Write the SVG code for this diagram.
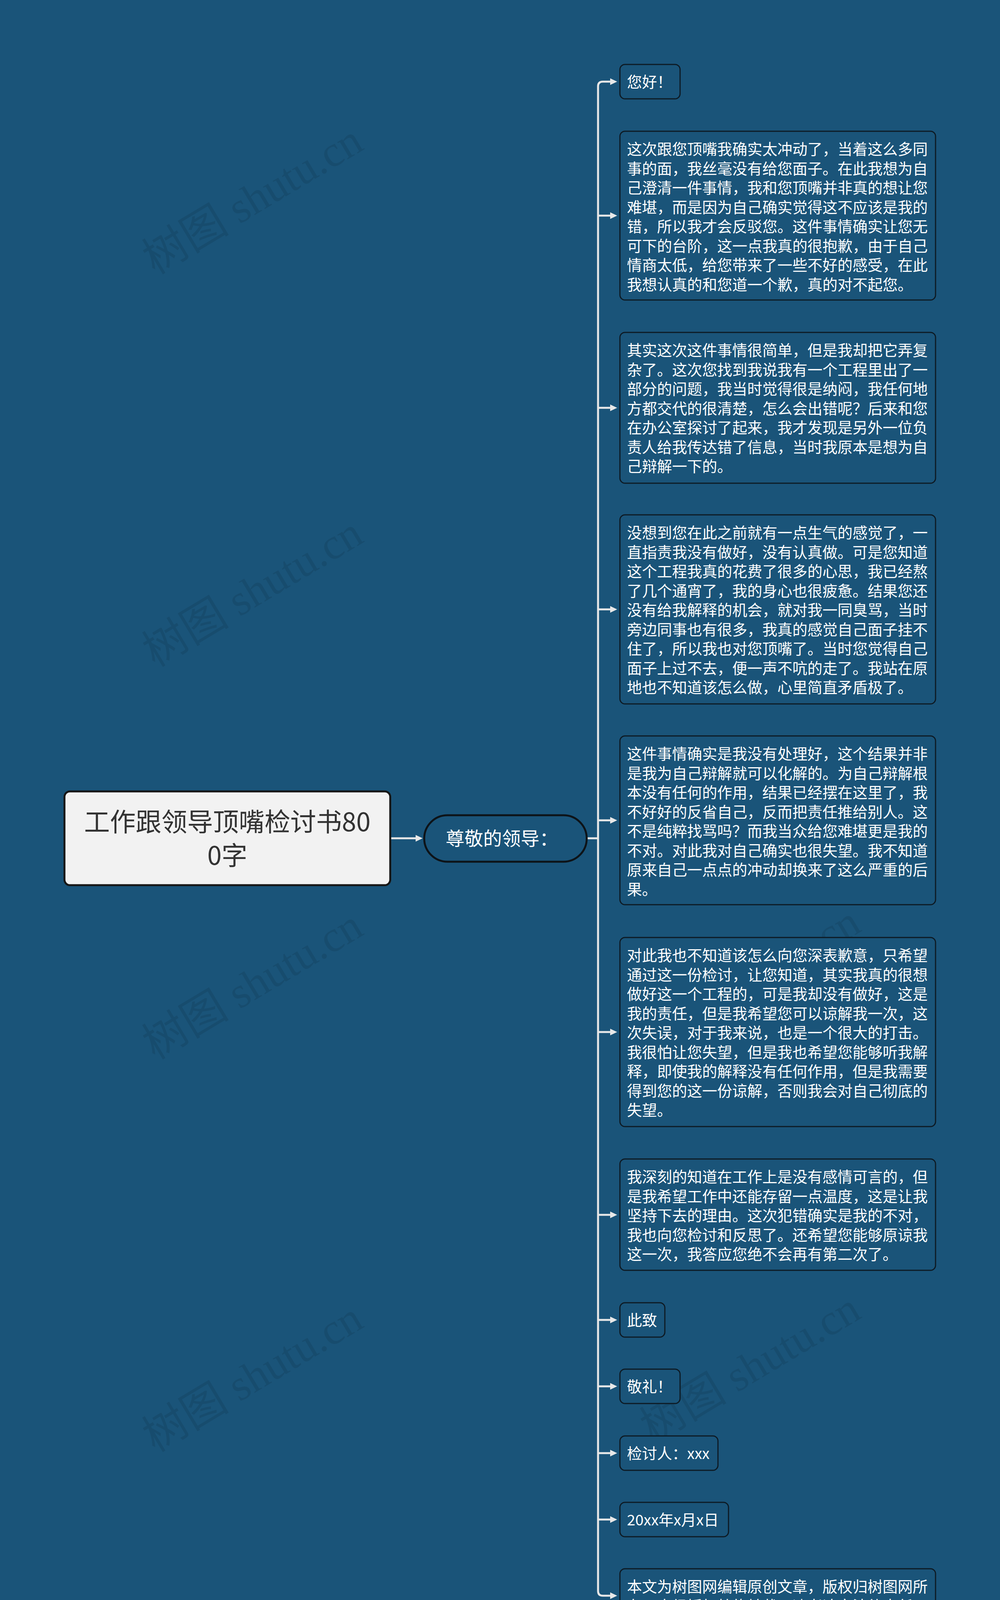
<svg xmlns="http://www.w3.org/2000/svg" width="2560" height="4318" viewBox="0 0 2560 4318">
<defs>
<style>
.bg{fill:#1a5479}
.wm{font-family:"Liberation Serif","Noto Sans CJK SC",serif;font-size:112px;fill:#000;fill-opacity:0.085}
.box{fill:#1a5479;stroke:#0d1a24;stroke-width:3}
.t{font-family:"Noto Sans CJK SC","Noto Sans",sans-serif;font-size:38.5px;fill:#ffffff}
.root{fill:#f2f2f2;stroke:#161616;stroke-width:5}
.rt{font-family:"Noto Sans CJK SC","Noto Sans",sans-serif;font-size:66px;fill:#333333}
.pill{fill:#1a5479;stroke:#0d1318;stroke-width:5}
.pt{font-family:"Noto Sans CJK SC","Noto Sans",sans-serif;font-size:48px;fill:#ffffff}
.ln{fill:none;stroke:#e8e8e8;stroke-width:5}
</style>
<marker id="ah" markerUnits="userSpaceOnUse" markerWidth="18" markerHeight="18" refX="4" refY="9" orient="auto">
<path d="M0,0.5 L18,9 L0,17.5 z" fill="#e8e8e8"/>
</marker>
</defs>
<rect class="bg" x="0" y="0" width="2560" height="4318"/>
<g id="watermarks">
<text class="wm" x="646" y="548" text-anchor="middle" transform="rotate(-31 646 509)">树图 shutu.cn</text>
<text class="wm" x="646" y="1553" text-anchor="middle" transform="rotate(-31 646 1514)">树图 shutu.cn</text>
<text class="wm" x="646" y="2558" text-anchor="middle" transform="rotate(-31 646 2519)">树图 shutu.cn</text>
<text class="wm" x="646" y="3563" text-anchor="middle" transform="rotate(-31 646 3524)">树图 shutu.cn</text>
<text class="wm" x="1920" y="539" text-anchor="middle" transform="rotate(-31 1920 500)">树图 shutu.cn</text>
<text class="wm" x="1920" y="1544" text-anchor="middle" transform="rotate(-31 1920 1505)">树图 shutu.cn</text>
<text class="wm" x="1920" y="2549" text-anchor="middle" transform="rotate(-31 1920 2510)">树图 shutu.cn</text>
<text class="wm" x="1920" y="3539" text-anchor="middle" transform="rotate(-31 1920 3500)">树图 shutu.cn</text>
</g>
<g id="connectors">
<path class="ln" d="M999,2146 H1068" marker-end="url(#ah)"/>
<path class="ln" d="M1502,2146 H1531"/>
<path class="ln" d="M1531,221 V4073"/>
<path class="ln" d="M1531,221 Q1531,209 1543,209 H1566" marker-end="url(#ah)"/>
<path class="ln" d="M1531,552 H1566" marker-end="url(#ah)"/>
<path class="ln" d="M1531,1044 H1566" marker-end="url(#ah)"/>
<path class="ln" d="M1531,1560 H1566" marker-end="url(#ah)"/>
<path class="ln" d="M1531,2100 H1566" marker-end="url(#ah)"/>
<path class="ln" d="M1531,2642 H1566" marker-end="url(#ah)"/>
<path class="ln" d="M1531,3110 H1566" marker-end="url(#ah)"/>
<path class="ln" d="M1531,3379 H1566" marker-end="url(#ah)"/>
<path class="ln" d="M1531,3549 H1566" marker-end="url(#ah)"/>
<path class="ln" d="M1531,3720 H1566" marker-end="url(#ah)"/>
<path class="ln" d="M1531,3890 H1566" marker-end="url(#ah)"/>
<path class="ln" d="M1531,4073 Q1531,4085 1543,4085 H1566" marker-end="url(#ah)"/>
</g>
<g id="root">
<rect class="root" x="165" y="2026" width="834" height="240" rx="14"/>
<text class="rt" text-anchor="middle"><tspan x="582" y="2128">工作跟领导顶嘴检讨书80</tspan><tspan x="582" y="2214">0字</tspan></text>
</g>
<g id="n-greeting">
<rect class="pill" x="1086" y="2087" width="416" height="119" rx="59.5"/>
<text class="pt" x="1141" y="2164">尊敬的领导：</text>
</g>
<g id="c1">
<rect class="box" x="1587" y="165" width="154" height="88" rx="13"/>
<text class="t" x="1605" y="224">您好！</text>
</g>
<g id="c2">
<rect class="box" x="1587" y="336" width="808" height="432" rx="13"/>
<text class="t"><tspan x="1605" y="396">这次跟您顶嘴我确实太冲动了，当着这么多同</tspan><tspan x="1605" y="445.5">事的面，我丝毫没有给您面子。在此我想为自</tspan><tspan x="1605" y="495">己澄清一件事情，我和您顶嘴并非真的想让您</tspan><tspan x="1605" y="544.5">难堪，而是因为自己确实觉得这不应该是我的</tspan><tspan x="1605" y="594">错，所以我才会反驳您。这件事情确实让您无</tspan><tspan x="1605" y="643.5">可下的台阶，这一点我真的很抱歉，由于自己</tspan><tspan x="1605" y="693">情商太低，给您带来了一些不好的感受，在此</tspan><tspan x="1605" y="742.5">我想认真的和您道一个歉，真的对不起您。</tspan></text>
</g>
<g id="c3">
<rect class="box" x="1587" y="851" width="808" height="386" rx="13"/>
<text class="t"><tspan x="1605" y="911">其实这次这件事情很简单，但是我却把它弄复</tspan><tspan x="1605" y="960.5">杂了。这次您找到我说我有一个工程里出了一</tspan><tspan x="1605" y="1010">部分的问题，我当时觉得很是纳闷，我任何地</tspan><tspan x="1605" y="1059.5">方都交代的很清楚，怎么会出错呢？后来和您</tspan><tspan x="1605" y="1109">在办公室探讨了起来，我才发现是另外一位负</tspan><tspan x="1605" y="1158.5">责人给我传达错了信息，当时我原本是想为自</tspan><tspan x="1605" y="1208">己辩解一下的。</tspan></text>
</g>
<g id="c4">
<rect class="box" x="1587" y="1318" width="808" height="484" rx="13"/>
<text class="t"><tspan x="1605" y="1378">没想到您在此之前就有一点生气的感觉了，一</tspan><tspan x="1605" y="1427.5">直指责我没有做好，没有认真做。可是您知道</tspan><tspan x="1605" y="1477">这个工程我真的花费了很多的心思，我已经熬</tspan><tspan x="1605" y="1526.5">了几个通宵了，我的身心也很疲惫。结果您还</tspan><tspan x="1605" y="1576">没有给我解释的机会，就对我一同臭骂，当时</tspan><tspan x="1605" y="1625.5">旁边同事也有很多，我真的感觉自己面子挂不</tspan><tspan x="1605" y="1675">住了，所以我也对您顶嘴了。当时您觉得自己</tspan><tspan x="1605" y="1724.5">面子上过不去，便一声不吭的走了。我站在原</tspan><tspan x="1605" y="1774">地也不知道该怎么做，心里简直矛盾极了。</tspan></text>
</g>
<g id="c5">
<rect class="box" x="1587" y="1884" width="808" height="432" rx="13"/>
<text class="t"><tspan x="1605" y="1944">这件事情确实是我没有处理好，这个结果并非</tspan><tspan x="1605" y="1993.5">是我为自己辩解就可以化解的。为自己辩解根</tspan><tspan x="1605" y="2043">本没有任何的作用，结果已经摆在这里了，我</tspan><tspan x="1605" y="2092.5">不好好的反省自己，反而把责任推给别人。这</tspan><tspan x="1605" y="2142">不是纯粹找骂吗？而我当众给您难堪更是我的</tspan><tspan x="1605" y="2191.5">不对。对此我对自己确实也很失望。我不知道</tspan><tspan x="1605" y="2241">原来自己一点点的冲动却换来了这么严重的后</tspan><tspan x="1605" y="2290.5">果。</tspan></text>
</g>
<g id="c6">
<rect class="box" x="1587" y="2400" width="808" height="484" rx="13"/>
<text class="t"><tspan x="1605" y="2460">对此我也不知道该怎么向您深表歉意，只希望</tspan><tspan x="1605" y="2509.5">通过这一份检讨，让您知道，其实我真的很想</tspan><tspan x="1605" y="2559">做好这一个工程的，可是我却没有做好，这是</tspan><tspan x="1605" y="2608.5">我的责任，但是我希望您可以谅解我一次，这</tspan><tspan x="1605" y="2658">次失误，对于我来说，也是一个很大的打击。</tspan><tspan x="1605" y="2707.5">我很怕让您失望，但是我也希望您能够听我解</tspan><tspan x="1605" y="2757">释，即使我的解释没有任何作用，但是我需要</tspan><tspan x="1605" y="2806.5">得到您的这一份谅解，否则我会对自己彻底的</tspan><tspan x="1605" y="2856">失望。</tspan></text>
</g>
<g id="c7">
<rect class="box" x="1587" y="2967" width="808" height="285" rx="13"/>
<text class="t"><tspan x="1605" y="3027">我深刻的知道在工作上是没有感情可言的，但</tspan><tspan x="1605" y="3076.5">是我希望工作中还能存留一点温度，这是让我</tspan><tspan x="1605" y="3126">坚持下去的理由。这次犯错确实是我的不对，</tspan><tspan x="1605" y="3175.5">我也向您检讨和反思了。还希望您能够原谅我</tspan><tspan x="1605" y="3225">这一次，我答应您绝不会再有第二次了。</tspan></text>
</g>
<g id="c8">
<rect class="box" x="1587" y="3335" width="115" height="88" rx="13"/>
<text class="t" x="1605" y="3394">此致</text>
</g>
<g id="c9">
<rect class="box" x="1587" y="3505" width="154" height="88" rx="13"/>
<text class="t" x="1605" y="3564">敬礼！</text>
</g>
<g id="c10">
<rect class="box" x="1587" y="3676" width="251" height="88" rx="13"/>
<text class="t" x="1605" y="3735">检讨人：xxx</text>
</g>
<g id="c11">
<rect class="box" x="1587" y="3846" width="278" height="88" rx="13"/>
<text class="t" x="1605" y="3905">20xx年x月x日</text>
</g>
<g id="c12">
<rect class="box" x="1587" y="4016" width="808" height="137" rx="13"/>
<text class="t"><tspan x="1605" y="4076">本文为树图网编辑原创文章，版权归树图网所</tspan><tspan x="1605" y="4125.5">有，未经授权杜绝转载，违者追究法律责任。</tspan></text>
</g>
</svg>
